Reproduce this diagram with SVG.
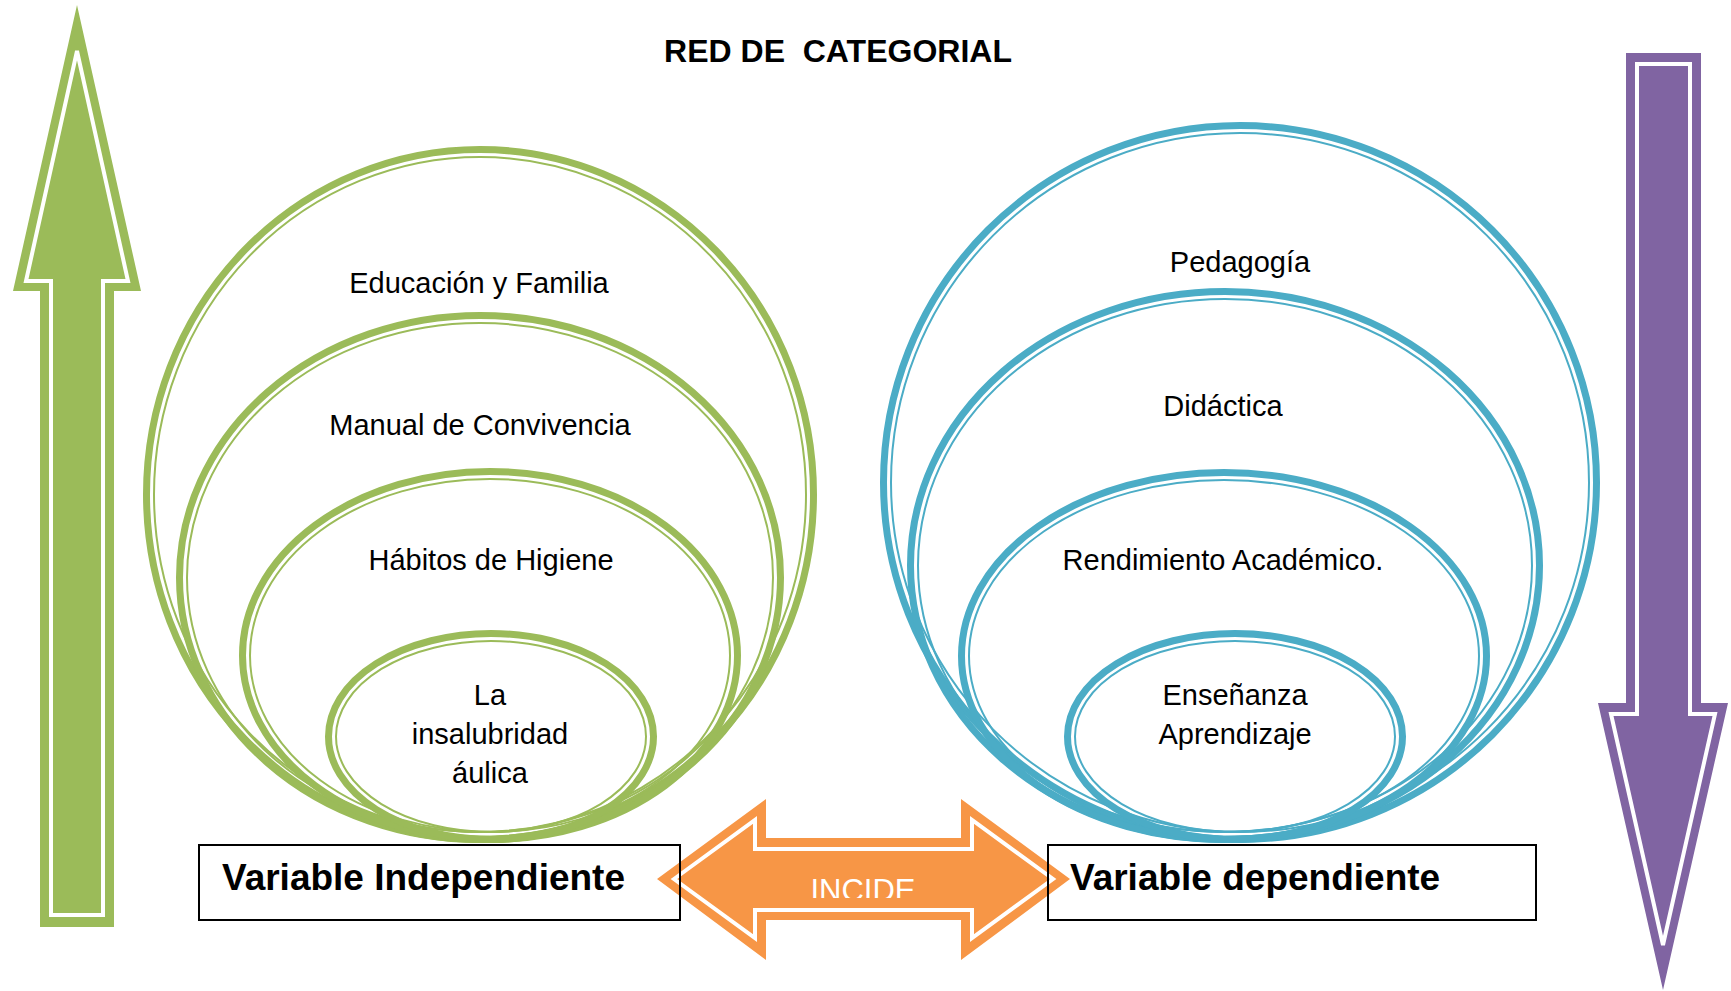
<svg xmlns="http://www.w3.org/2000/svg" width="1731" height="991" viewBox="0 0 1731 991">
<style>
.lbl{font-family:"Liberation Sans",Arial,sans-serif;font-size:29px;fill:#000;text-anchor:middle}
.var{font-family:"Liberation Sans",Arial,sans-serif;font-size:37px;font-weight:bold;fill:#000}
.g .thick{fill:none;stroke:#9BBB59;stroke-width:7}
.g .thin{fill:none;stroke:#9BBB59;stroke-width:2}
.b .thick{fill:none;stroke:#4BACC6;stroke-width:7}
.b .thin{fill:none;stroke:#4BACC6;stroke-width:2}
.wline{fill:none;stroke:#fff;stroke-width:4;stroke-linejoin:miter}
</style>
<defs>
<clipPath id="incClip"><rect x="700" y="860" width="330" height="38"/></clipPath>
</defs>
<rect width="1731" height="991" fill="#fff"/>

<text x="838" y="62" font-family="Liberation Sans, Arial, sans-serif" font-size="32" font-weight="bold" text-anchor="middle" xml:space="preserve">RED DE  CATEGORIAL</text>

<g id="arrow-up">
<polygon points="77,5 141,291 114,291 114,927 40,927 40,291 13,291" fill="#9BBB59"/>
<polygon class="wline" points="77,51 128,281 103,281 103,915 51,915 51,281 26,281"/>
</g>

<g id="arrow-down">
<polygon points="1626,53 1701,53 1701,703 1728,703 1663,990 1598,703 1626,703" fill="#8064A2"/>
<polygon class="wline" points="1637,64 1690,64 1690,714 1715,714 1663,945 1611,714 1637,714"/>
</g>

<g id="green-circles" class="g">
<g id="educacion-familia">
<ellipse class="thick" cx="480" cy="494.5" rx="333.5" ry="345"/>
<ellipse class="thin" cx="480" cy="494.5" rx="326" ry="337.5"/>
<text class="lbl" x="479" y="293">Educación y Familia</text>
</g>
<g id="manual-convivencia">
<ellipse class="thick" cx="480" cy="577.5" rx="300.5" ry="262"/>
<ellipse class="thin" cx="480" cy="577.5" rx="293" ry="254.5"/>
<text class="lbl" x="480" y="435">Manual de Convivencia</text>
</g>
<g id="habitos-higiene">
<ellipse class="thick" cx="490" cy="655.5" rx="247.5" ry="184"/>
<ellipse class="thin" cx="490" cy="655.5" rx="240" ry="176.5"/>
<text class="lbl" x="491" y="570">Hábitos de Higiene</text>
</g>
<g id="insalubridad">
<ellipse class="thick" cx="491" cy="736.5" rx="162.5" ry="103"/>
<ellipse class="thin" cx="491" cy="736.5" rx="155" ry="95.5"/>
<text class="lbl" x="490" y="705">La</text>
<text class="lbl" x="490" y="744">insalubridad</text>
<text class="lbl" x="490" y="783">áulica</text>
</g>
</g>

<g id="blue-circles" class="b">
<g id="pedagogia">
<ellipse class="thick" cx="1240" cy="482.5" rx="356.5" ry="357"/>
<ellipse class="thin" cx="1240" cy="482.5" rx="349" ry="349.5"/>
<text class="lbl" x="1240" y="272">Pedagogía</text>
</g>
<g id="didactica">
<ellipse class="thick" cx="1225" cy="565.5" rx="314.5" ry="274"/>
<ellipse class="thin" cx="1225" cy="565.5" rx="307" ry="266.5"/>
<text class="lbl" x="1223" y="416">Didáctica</text>
</g>
<g id="rendimiento">
<ellipse class="thick" cx="1224" cy="656" rx="262.5" ry="183.5"/>
<ellipse class="thin" cx="1224" cy="656" rx="255" ry="176"/>
<text class="lbl" x="1223" y="570">Rendimiento Académico.</text>
</g>
<g id="ensenanza">
<ellipse class="thick" cx="1235" cy="736.5" rx="167.5" ry="103"/>
<ellipse class="thin" cx="1235" cy="736.5" rx="160" ry="95.5"/>
<text class="lbl" x="1235" y="705">Enseñanza</text>
<text class="lbl" x="1235" y="744">Aprendizaje</text>
</g>
</g>

<g id="box-independiente">
<rect x="199" y="845" width="481" height="75" fill="#fff"/>
</g>
<g id="box-dependiente">
<rect x="1048" y="845" width="488" height="75" fill="#fff"/>
</g>

<g id="connectors">
<g id="incide">
<polygon points="657,879 766,799 766,838 961,838 961,799 1070,879 961,960 961,920 766,920 766,960" fill="#F79646"/>
<polygon class="wline" points="674,879 755,820 755,849 972,849 972,820 1053,879 972,938 972,910 755,910 755,938"/>
<text x="863" y="901" clip-path="url(#incClip)" font-family="Liberation Sans, Arial, sans-serif" font-size="31" fill="#fff" text-anchor="middle">INCIDE</text>
</g>
</g>

<rect x="199" y="845" width="481" height="75" fill="none" stroke="#000" stroke-width="2"/>
<text class="var" x="222" y="890">Variable Independiente</text>
<rect x="1048" y="845" width="488" height="75" fill="none" stroke="#000" stroke-width="2"/>
<text class="var" x="1070" y="890">Variable dependiente</text>
</svg>
